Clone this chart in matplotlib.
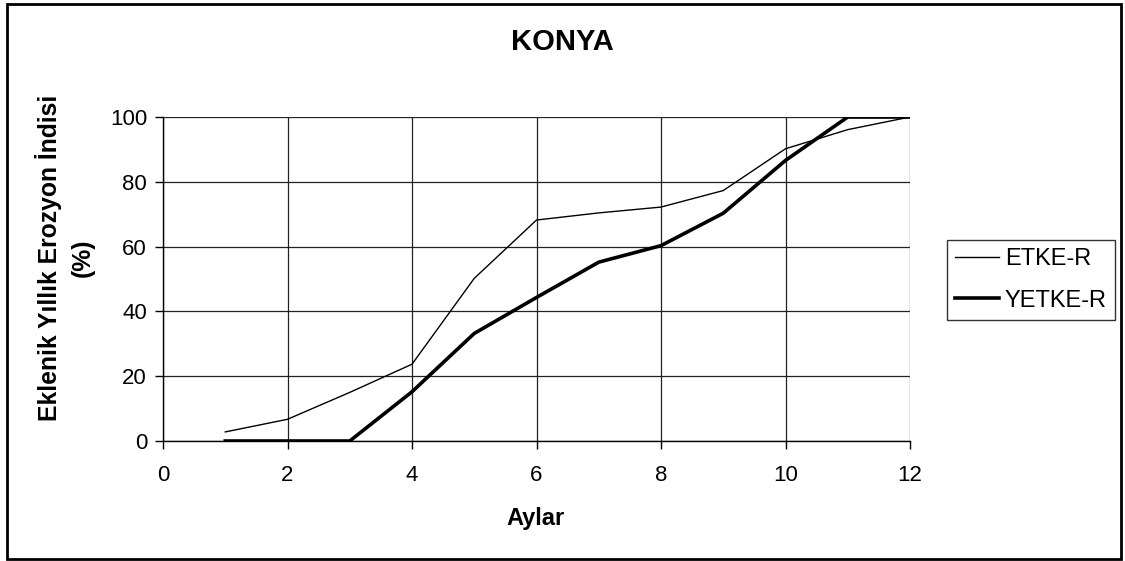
import matplotlib
matplotlib.use("Agg")
import matplotlib.pyplot as plt
from matplotlib.patches import Rectangle

# months and cumulative annual erosion index (%)
aylar = [1, 2, 3, 4, 5, 6, 7, 8, 9, 10, 11, 12]
etke_r = [2.8, 6.7, 15.0, 23.7, 50.2, 68.2, 70.4, 72.2, 77.3, 90.2, 96.1, 100.0]
yetke_r = [0.0, 0.0, 0.0, 15.2, 33.2, 44.3, 55.2, 60.3, 70.3, 86.6, 100.0, 100.0]

xticks = [0, 2, 4, 6, 8, 10, 12]
yticks = [0, 20, 40, 60, 80, 100]

plt.rcParams["font.family"] = ["Liberation Sans", "DejaVu Sans"]

W, H = 1125, 561
fig = plt.figure(figsize=(W / 100, H / 100), dpi=100)
ax = fig.add_axes([163 / W, 1 - 441 / H, (910 - 163) / W, (441 - 117) / H])

ax.plot(aylar, etke_r, color="black", lw=1.0, label="ETKE-R")
ax.plot(aylar, yetke_r, color="black", lw=2.6, label="YETKE-R")

ax.set_xlim(0, 12)
ax.set_ylim(0, 100)
ax.set_xticks(xticks)
ax.set_yticks(yticks)
ax.grid(True, color="#222222", lw=0.9)
ax.set_axisbelow(True)
for s in ["top", "right"]:
    ax.spines[s].set_visible(False)
for s in ["left", "bottom"]:
    ax.spines[s].set_color("black")
    ax.spines[s].set_linewidth(1.0)
ax.tick_params(axis="both", direction="out", length=5.5, width=1.0,
               labelsize=16, color="black")
ax.tick_params(axis="y", pad=6)
ax.tick_params(axis="x", pad=12)

fig.text(0.5, 1 - 42 / H, "KONYA", ha="center", va="center",
         fontsize=21, fontweight="bold")
fig.text(536 / W, 1 - 518 / H, "Aylar", ha="center", va="center",
         fontsize=17, fontweight="bold")
fig.text(65 / W, 1 - 258 / H, "Eklenik Yıllık Erozyon İndisi\n(%)",
         rotation=90, ha="center", va="center", fontsize=17.8,
         fontweight="bold", linespacing=1.5, multialignment="center")

leg = fig.legend(loc="upper left", bbox_to_anchor=(947 / W, 1 - 240 / H),
                 fontsize=17, frameon=True, fancybox=False,
                 edgecolor="black", borderpad=0.35, handlelength=1.85,
                 handletextpad=0.25, labelspacing=0.82, borderaxespad=0)
leg.get_frame().set_linewidth(1.0)

fig.patches.append(Rectangle((7 / W, 1 - 559 / H), (1121 - 7) / W, (559 - 4) / H,
                             transform=fig.transFigure, fill=False,
                             edgecolor="black", lw=2.0))

fig.savefig("out.png", dpi=100)
